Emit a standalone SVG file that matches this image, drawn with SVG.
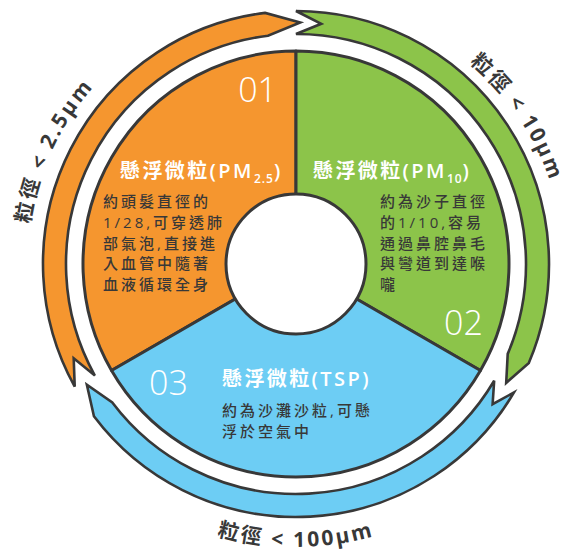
<svg xmlns="http://www.w3.org/2000/svg" xmlns:xlink="http://www.w3.org/1999/xlink" width="570" height="553" viewBox="0 0 570 553">
<style>
.sec{stroke:#383838;stroke-width:3;stroke-linejoin:round}
.arr{stroke:#383838;stroke-width:2.6;stroke-linejoin:miter}
.org{fill:#F5962F}
.grn{fill:#8CC44A}
.blu{fill:#6DCDF4}
.num{font-family:"Open Sans","Noto Sans",sans-serif;font-weight:300;font-size:34px;fill:#fff}
.ttl{font-family:"Open Sans","Noto Sans CJK TC",sans-serif;font-weight:600;font-size:20px;fill:#fff;letter-spacing:2.4px}
.body{font-family:"Open Sans","Noto Sans CJK TC",sans-serif;font-weight:500;font-size:15px;fill:#383838;letter-spacing:3px}
.lbl{font-family:"Open Sans","Noto Sans CJK TC",sans-serif;font-weight:700;font-size:21px;fill:#383838;letter-spacing:2.5px}
</style>
<defs>
<path id="pL" d="M31.1,310.7 A269,269 0 0 1 161.5,31.0"/>
<path id="pR" d="M390,16 A268,268 0 0 1 563.8,273.4"/>
<path id="pB" d="M133.7,495.8 A283,283 0 0 0 458.3,495.8"/>
</defs>
<g id="connectors">
<path class="arr org" d="M74.72,386.66 A253,253 0 0 1 265.17,12.88 L300.21,22.54 L267.97,35.71 A230,230 0 0 0 94.84,375.51 L73.70,358.36 Z"/>
<path class="arr grn" d="M296,11 A253,253 0 0 1 528.89,362.85 L506.19,382.92 L507.72,353.87 A230,230 0 0 0 296,34 L321.24,23.82 Z"/>
<path class="arr blu" d="M513.99,392.41 A253,253 0 0 1 93.94,416.26 L86.85,384.75 L112.31,402.42 A230,230 0 0 0 494.17,380.73 L492.61,404.24 Z"/>
<text class="lbl"><textPath xlink:href="#pL" href="#pL" startOffset="50%" text-anchor="middle">粒徑 &lt; 2.5μm</textPath></text>
<text class="lbl"><textPath xlink:href="#pR" href="#pR" startOffset="50%" text-anchor="middle">粒徑 &lt; 10μm</textPath></text>
<text class="lbl"><textPath xlink:href="#pB" href="#pB" startOffset="50%" text-anchor="middle">粒徑 &lt; 100μm</textPath></text>
</g>
<g id="node-pm25">
<path class="sec org" d="M296,264 L111.54,370.5 A213,213 0 0 1 296,51 Z"/>
<text class="num" x="277" y="102" text-anchor="end">01</text>
<text class="ttl" x="120" y="178">懸浮微粒(PM<tspan font-size="12" dy="5" letter-spacing="1">2.5</tspan><tspan dy="-5">)</tspan></text>
<text class="body" x="103" y="207">約頭髮直徑的</text>
<text class="body" x="103" y="228">1/28,可穿透肺</text>
<text class="body" x="103" y="248.5">部氣泡,直接進</text>
<text class="body" x="103" y="269">入血管中隨著</text>
<text class="body" x="103" y="289.5">血液循環全身</text>
</g>
<g id="node-pm10">
<path class="sec grn" d="M296,264 L296,51 A213,213 0 0 1 480.46,370.5 Z"/>
<text class="num" x="444" y="335">02</text>
<text class="ttl" x="313" y="178">懸浮微粒(PM<tspan font-size="12" dy="5" letter-spacing="1">10</tspan><tspan dy="-5">)</tspan></text>
<text class="body" x="380" y="207">約為沙子直徑</text>
<text class="body" x="380" y="228">的1/10,容易</text>
<text class="body" x="380" y="248.5">通過鼻腔鼻毛</text>
<text class="body" x="380" y="269">與彎道到達喉</text>
<text class="body" x="380" y="290">嚨</text>
</g>
<g id="node-tsp">
<path class="sec blu" d="M296,264 L480.46,370.5 A213,213 0 0 1 111.54,370.5 Z"/>
<text class="num" x="149" y="395">03</text>
<text class="ttl" x="222" y="386">懸浮微粒(TSP)</text>
<text class="body" x="222" y="416">約為沙灘沙粒,可懸</text>
<text class="body" x="222" y="437">浮於空氣中</text>
</g>
<g id="hub">
<circle cx="296" cy="264" r="70" fill="#fff" stroke="#383838" stroke-width="3"/>
</g>
</svg>
